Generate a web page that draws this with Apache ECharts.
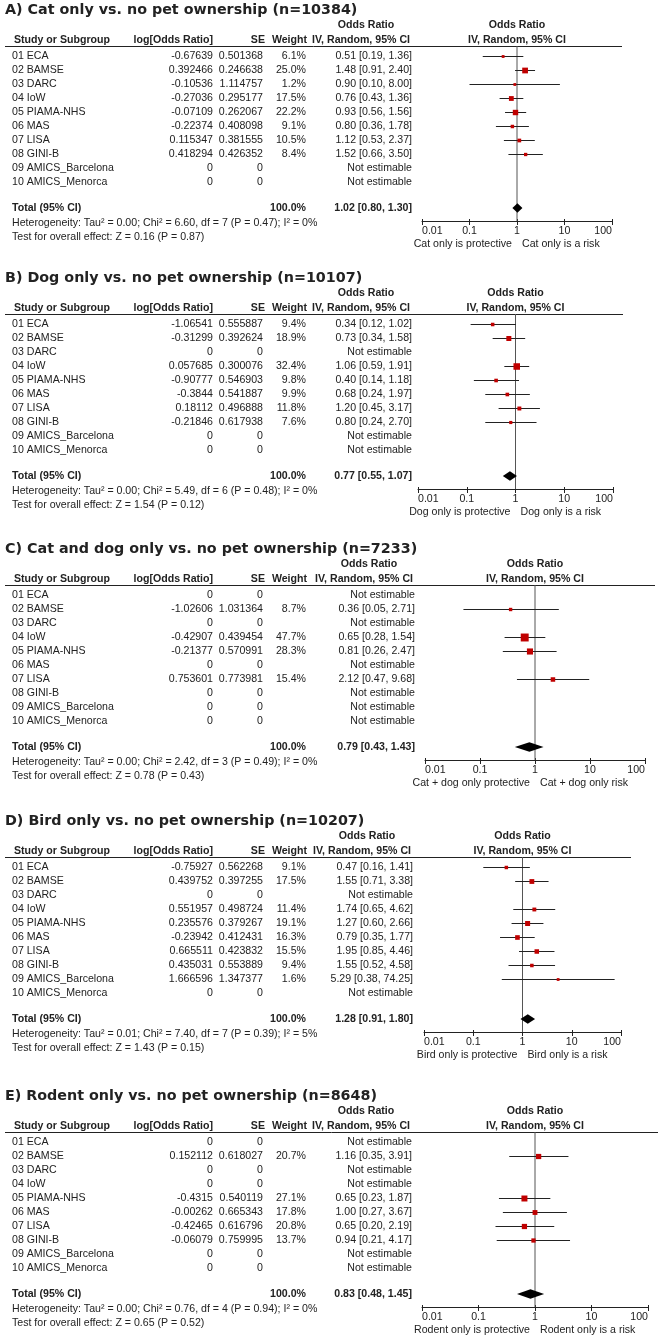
<!DOCTYPE html>
<html><head><meta charset="utf-8">
<script src="https://cdn.jsdelivr.net/npm/echarts@6/dist/echarts.min.js"></script>
<style>html,body{margin:0;padding:0;background:#fff}#c{width:662px;height:1340px}</style>
</head><body><div id="c"></div>
<script>
// ---------- DATA ----------
const studies = ['01 ECA','02 BAMSE','03 DARC','04 IoW','05 PIAMA-NHS','06 MAS','07 LISA','08 GINI-B','09 AMICS_Barcelona','10 AMICS_Menorca'];
const tickLabels = ['0.01','0.1','1','10','100'];

// A) Cat only
const catTitle = 'A) Cat only vs. no pet ownership (n=10384)';
const catLogOR = [-0.67639,0.392466,-0.10536,-0.27036,-0.07109,-0.22374,0.115347,0.418294,0,0];
const catSE = [0.501368,0.246638,1.114757,0.295177,0.262067,0.408098,0.381555,0.426352,0,0];
const catWeight = [6.1,25.0,1.2,17.5,22.2,9.1,10.5,8.4,null,null];
const catOR = [0.51,1.48,0.90,0.76,0.93,0.80,1.12,1.52,null,null];
const catLo = [0.19,0.91,0.10,0.43,0.56,0.36,0.53,0.66,null,null];
const catHi = [1.36,2.40,8.00,1.36,1.56,1.78,2.37,3.50,null,null];
const catTotal = [1.02,0.80,1.30];
const catHet = 'Heterogeneity: Tau² = 0.00; Chi² = 6.60, df = 7 (P = 0.47); I² = 0%';
const catTest = 'Test for overall effect: Z = 0.16 (P = 0.87)';
const catFavour = ['Cat only is protective','Cat only is a risk'];

// B) Dog only
const dogTitle = 'B) Dog only vs. no pet ownership (n=10107)';
const dogLogOR = [-1.06541,-0.31299,0,0.057685,-0.90777,-0.3844,0.18112,-0.21846,0,0];
const dogSE = [0.555887,0.392624,0,0.300076,0.546903,0.541887,0.496888,0.617938,0,0];
const dogWeight = [9.4,18.9,null,32.4,9.8,9.9,11.8,7.6,null,null];
const dogOR = [0.34,0.73,null,1.06,0.40,0.68,1.20,0.80,null,null];
const dogLo = [0.12,0.34,null,0.59,0.14,0.24,0.45,0.24,null,null];
const dogHi = [1.02,1.58,null,1.91,1.18,1.97,3.17,2.70,null,null];
const dogTotal = [0.77,0.55,1.07];
const dogHet = 'Heterogeneity: Tau² = 0.00; Chi² = 5.49, df = 6 (P = 0.48); I² = 0%';
const dogTest = 'Test for overall effect: Z = 1.54 (P = 0.12)';
const dogFavour = ['Dog only is protective','Dog only is a risk'];

// C) Cat and dog only
const cdTitle = 'C) Cat and dog only vs. no pet ownership (n=7233)';
const cdLogOR = [0,-1.02606,0,-0.42907,-0.21377,0,0.753601,0,0,0];
const cdSE = [0,1.031364,0,0.439454,0.570991,0,0.773981,0,0,0];
const cdWeight = [null,8.7,null,47.7,28.3,null,15.4,null,null,null];
const cdOR = [null,0.36,null,0.65,0.81,null,2.12,null,null,null];
const cdLo = [null,0.05,null,0.28,0.26,null,0.47,null,null,null];
const cdHi = [null,2.71,null,1.54,2.47,null,9.68,null,null,null];
const cdTotal = [0.79,0.43,1.43];
const cdHet = 'Heterogeneity: Tau² = 0.00; Chi² = 2.42, df = 3 (P = 0.49); I² = 0%';
const cdTest = 'Test for overall effect: Z = 0.78 (P = 0.43)';
const cdFavour = ['Cat + dog only protective','Cat + dog only risk'];

// D) Bird only
const birdTitle = 'D) Bird only vs. no pet ownership (n=10207)';
const birdLogOR = [-0.75927,0.439752,0,0.551957,0.235576,-0.23942,0.665511,0.435031,1.666596,0];
const birdSE = [0.562268,0.397255,0,0.498724,0.379267,0.412431,0.423832,0.553889,1.347377,0];
const birdWeight = [9.1,17.5,null,11.4,19.1,16.3,15.5,9.4,1.6,null];
const birdOR = [0.47,1.55,null,1.74,1.27,0.79,1.95,1.55,5.29,null];
const birdLo = [0.16,0.71,null,0.65,0.60,0.35,0.85,0.52,0.38,null];
const birdHi = [1.41,3.38,null,4.62,2.66,1.77,4.46,4.58,74.25,null];
const birdTotal = [1.28,0.91,1.80];
const birdHet = 'Heterogeneity: Tau² = 0.01; Chi² = 7.40, df = 7 (P = 0.39); I² = 5%';
const birdTest = 'Test for overall effect: Z = 1.43 (P = 0.15)';
const birdFavour = ['Bird only is protective','Bird only is a risk'];

// E) Rodent only
const rodTitle = 'E) Rodent only vs. no pet ownership (n=8648)';
const rodLogOR = [0,0.152112,0,0,-0.4315,-0.00262,-0.42465,-0.06079,0,0];
const rodSE = [0,0.618027,0,0,0.540119,0.665343,0.616796,0.759995,0,0];
const rodWeight = [null,20.7,null,null,27.1,17.8,20.8,13.7,null,null];
const rodOR = [null,1.16,null,null,0.65,1.00,0.65,0.94,null,null];
const rodLo = [null,0.35,null,null,0.23,0.27,0.20,0.21,null,null];
const rodHi = [null,3.91,null,null,1.87,3.67,2.19,4.17,null,null];
const rodTotal = [0.83,0.48,1.45];
const rodHet = 'Heterogeneity: Tau² = 0.00; Chi² = 0.76, df = 4 (P = 0.94); I² = 0%';
const rodTest = 'Test for overall effect: Z = 0.65 (P = 0.52)';
const rodFavour = ['Rodent only is protective','Rodent only is a risk'];

// ---------- BUILD ----------
const panels = [
  {title:catTitle, logOR:catLogOR, se:catSE, weight:catWeight, or:catOR, lo:catLo, hi:catHi, total:catTotal, het:catHet, test:catTest, fav:catFavour},
  {title:dogTitle, logOR:dogLogOR, se:dogSE, weight:dogWeight, or:dogOR, lo:dogLo, hi:dogHi, total:dogTotal, het:dogHet, test:dogTest, fav:dogFavour},
  {title:cdTitle, logOR:cdLogOR, se:cdSE, weight:cdWeight, or:cdOR, lo:cdLo, hi:cdHi, total:cdTotal, het:cdHet, test:cdTest, fav:cdFavour},
  {title:birdTitle, logOR:birdLogOR, se:birdSE, weight:birdWeight, or:birdOR, lo:birdLo, hi:birdHi, total:birdTotal, het:birdHet, test:birdTest, fav:birdFavour},
  {title:rodTitle, logOR:rodLogOR, se:rodSE, weight:rodWeight, or:rodOR, lo:rodLo, hi:rodHi, total:rodTotal, het:rodHet, test:rodTest, fav:rodFavour}
];
const layout = [
  {top:10,  x0:422, x1:612, lineEnd:622, ci:412},
  {top:278, x0:418, x1:613, lineEnd:623, ci:412},
  {top:549, x0:425, x1:645, lineEnd:655, ci:415},
  {top:821, x0:424, x1:621, lineEnd:631, ci:413},
  {top:1096,x0:422, x1:648, lineEnd:658, ci:412}
];

const FONT = '"Liberation Sans", Arial, sans-serif';
const TFONT = '"DejaVu Sans", sans-serif';
const FS = 10.6;
const TXT = '#222';
const ROW0 = 46, ROWH = 14, HDR = 36, AXIS = 211, TOTAL = 198;
const yMin = (HDR - ROW0) / ROWH, yMax = (AXIS - ROW0) / ROWH, yTotal = (TOTAL - ROW0) / ROWH;
const fmtCI = (o, l, h) => o.toFixed(2) + ' [' + l.toFixed(2) + ', ' + h.toFixed(2) + ']';

const grids = [], xAxes = [], yAxes = [], series = [], graphics = [], tickAxes = [];

function txt(text, x, y, align, bold, size, family) {
  return {type:'text', silent:true, style:{text, x, y, align, verticalAlign:'middle',
    font:(bold ? 'bold ' : '') + (size || FS) + 'px ' + (family || FONT), fill:TXT}};
}

panels.forEach((p, k) => {
  const L = layout[k], T = L.top;
  const xMid = L.x0 + (L.x1 - L.x0) / 2;
  const colMid = L.ci - 46;
  grids.push({left:L.x0, top:T + HDR, width:L.x1 - L.x0, height:AXIS - HDR});
  xAxes.push({
    type:'log', logBase:10, min:0.01, max:100, gridIndex:k,
    axisLine:{show:true, onZero:false, lineStyle:{color:TXT, width:1}},
    axisTick:{show:true, length:4, lineStyle:{color:TXT, width:1}},
    minorTick:{show:false}, splitLine:{show:false},
    axisLabel:{fontSize:FS, fontFamily:FONT, color:TXT, margin:5,
      alignMinLabel:'left', alignMaxLabel:'right',
      formatter: v => tickLabels[Math.round(Math.log10(v)) + 2]}
  });
  // upward part of the ticks
  tickAxes.push({
    type:'log', logBase:10, min:0.01, max:100, gridIndex:k, position:'bottom',
    axisLine:{show:false, onZero:false},
    axisTick:{show:true, inside:true, length:2, lineStyle:{color:TXT, width:1}},
    axisLabel:{show:false}, minorTick:{show:false}, splitLine:{show:false}
  });
  yAxes.push({type:'value', gridIndex:k, min:yMin, max:yMax, inverse:true, show:false});

  // vertical line of no effect
  series.push({type:'line', xAxisIndex:k, yAxisIndex:k, data:[[1, yMin], [1, yMax]],
    symbol:'none', silent:true, z:1, lineStyle:{color:'#555', width:1}, animation:false});

  // table rows
  series.push({type:'custom', xAxisIndex:k, yAxisIndex:k, clip:false, silent:true, animation:false,
    data: studies.map((s, i) => [1, i]),
    renderItem: (params, api) => {
      const i = params.dataIndex;
      const y = Math.round(api.coord([1, api.value(1)])[1]);
      const w = p.weight[i];
      return {type:'group', children:[
        txt(studies[i], 12, y, 'left'),
        txt(String(p.logOR[i]), 213, y, 'right'),
        txt(String(p.se[i]), 263, y, 'right'),
        txt(w == null ? '' : w.toFixed(1) + '%', 306, y, 'right'),
        txt(w == null ? 'Not estimable' : fmtCI(p.or[i], p.lo[i], p.hi[i]), L.ci, y, 'right')
      ]};
    }});

  // total row text
  series.push({type:'custom', xAxisIndex:k, yAxisIndex:k, clip:false, silent:true, animation:false,
    data:[[1, yTotal]],
    renderItem: (params, api) => {
      const y = Math.round(api.coord([1, api.value(1)])[1]);
      return {type:'group', children:[
        txt('Total (95% CI)', 12, y, 'left', true),
        txt('100.0%', 306, y, 'right', true),
        txt(fmtCI(p.total[0], p.total[1], p.total[2]), L.ci, y, 'right', true)
      ]};
    }});

  // study estimates
  const est = [];
  p.weight.forEach((w, i) => { if (w != null) est.push([p.or[i], i, p.lo[i], p.hi[i], w]); });
  series.push({type:'custom', xAxisIndex:k, yAxisIndex:k, silent:true, animation:false, z:3,
    encode:{x:[0, 2, 3], y:1},
    data: est,
    renderItem: (params, api) => {
      const y = Math.round(api.coord([1, api.value(1)])[1]) + 0.5;
      const xo = api.coord([api.value(0), api.value(1)])[0];
      const xl = api.coord([api.value(2), api.value(1)])[0];
      const xh = api.coord([api.value(3), api.value(1)])[0];
      const s = Math.max(2.8, 1.15 * Math.sqrt(api.value(4)));
      return {type:'group', children:[
        {type:'line', shape:{x1:xl, y1:y, x2:xh, y2:y}, style:{stroke:'#222', lineWidth:1}},
        {type:'rect', shape:{x:xo - s / 2, y:y - s / 2, width:s, height:s}, style:{fill:'#c00000'}}
      ]};
    }});

  // pooled diamond
  series.push({type:'custom', xAxisIndex:k, yAxisIndex:k, silent:true, animation:false, z:3,
    encode:{x:[0, 2, 3], y:1},
    data:[[p.total[0], yTotal, p.total[1], p.total[2]]],
    renderItem: (params, api) => {
      const y = api.coord([1, api.value(1)])[1];
      const xo = api.coord([api.value(0), api.value(1)])[0];
      const xl = api.coord([api.value(2), api.value(1)])[0];
      const xh = api.coord([api.value(3), api.value(1)])[0];
      const h = 4.8;
      return {type:'polygon', shape:{points:[[xl, y], [xo, y - h], [xh, y], [xo, y + h]]}, style:{fill:'#000'}};
    }});

  // static texts
  graphics.push(txt(p.title, 5, T, 'left', true, 14.3, TFONT));
  graphics.push(txt('Odds Ratio', colMid, T + 15, 'center', true));
  graphics.push(txt('Odds Ratio', xMid, T + 15, 'center', true));
  graphics.push(txt('Study or Subgroup', 14, T + 30, 'left', true));
  graphics.push(txt('log[Odds Ratio]', 213, T + 30, 'right', true));
  graphics.push(txt('SE', 265, T + 30, 'right', true));
  graphics.push(txt('Weight', 307, T + 30, 'right', true));
  graphics.push(txt('IV, Random, 95% CI', L.ci - 2, T + 30, 'right', true));
  graphics.push(txt('IV, Random, 95% CI', xMid, T + 30, 'center', true));
  graphics.push({type:'line', silent:true, shape:{x1:5, y1:T + HDR + 0.5, x2:L.lineEnd, y2:T + HDR + 0.5},
    style:{stroke:TXT, lineWidth:1}});
  graphics.push(txt(p.het, 12, T + 213, 'left'));
  graphics.push(txt(p.test, 12, T + 227, 'left'));
  graphics.push(txt(p.fav[0], xMid - 5, T + 234, 'right'));
  graphics.push(txt(p.fav[1], xMid + 5, T + 234, 'left'));
});

const chart = echarts.init(document.getElementById('c'), null, {renderer:'canvas', width:662, height:1340});
chart.setOption({
  animation:false,
  backgroundColor:'#fff',
  grid:grids, xAxis:xAxes.concat(tickAxes), yAxis:yAxes, series,
  graphic:graphics
});
</script>
</body></html>
